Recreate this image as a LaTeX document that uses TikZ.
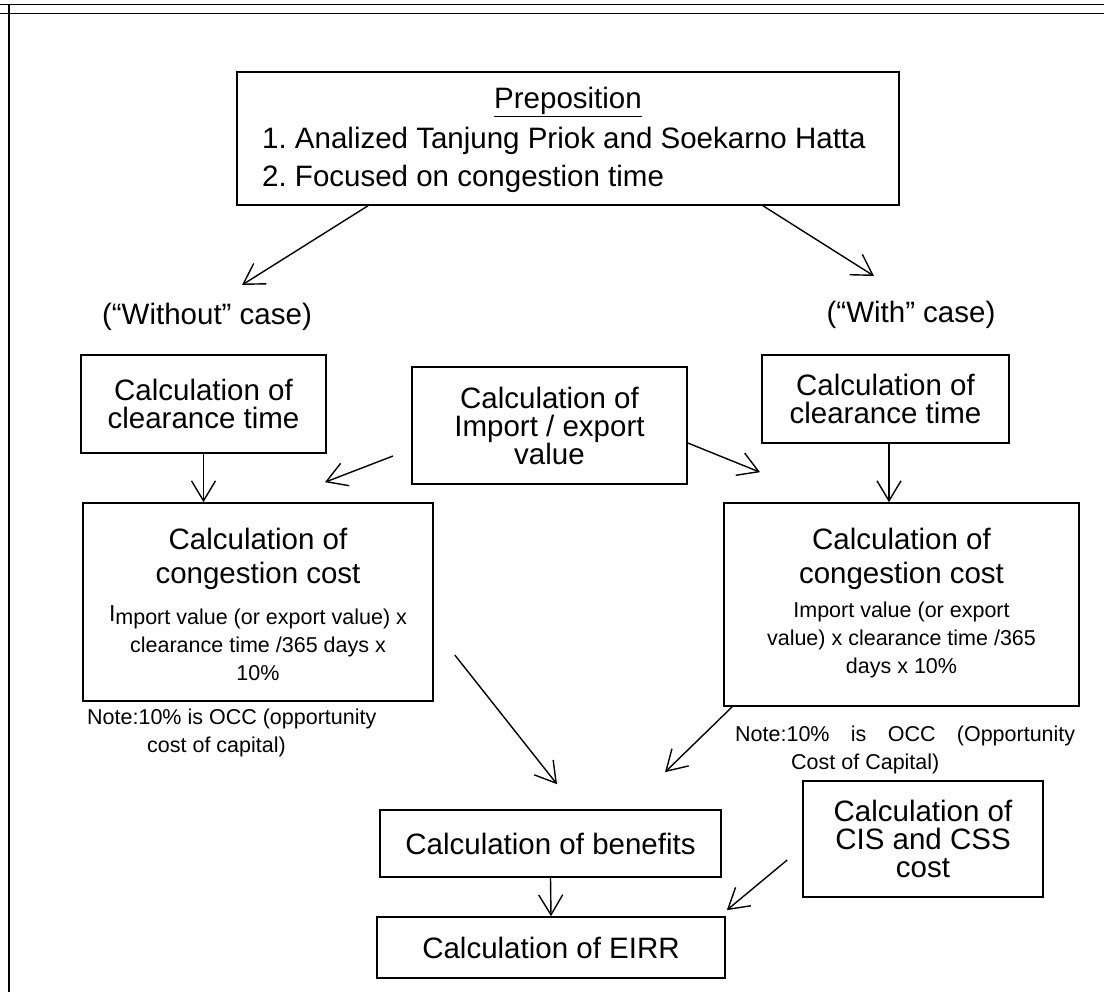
\documentclass[tikz,border=0pt]{standalone}
\usepackage{fontspec}
\setmainfont{Liberation Sans}
\usetikzlibrary{arrows.meta}

\begin{document}
\frenchspacing
\begin{tikzpicture}[x=1pt,y=-1pt,
  box/.style={draw, line width=1.6pt, inner sep=0pt},
  big/.style={font=\fontsize{29.5}{28}\selectfont, align=center, inner sep=0pt},
  small/.style={font=\fontsize{21.5}{28}\selectfont, align=center, inner sep=0pt},
  lbl/.style={font=\fontsize{29.5}{28}\selectfont, inner sep=0pt},
  arr/.style={line width=1.4pt, -{Straight Barb[length=20pt,width=24pt,line width=1.4pt]}},
]
\useasboundingbox (0,0) rectangle (1104,992);

% page frame: double rule on top, single rule on the left
\draw[line width=1pt] (0,5) -- (1104,5);
\draw[line width=1pt] (0,14) -- (1104,14);
\draw[line width=1.8pt] (9,5) -- (9,992);

% premise box
\node[box, minimum width=662pt, minimum height=133pt] (pre) at (568,138.5) {};
\node[lbl] (pretitle) at (568,102) {\underline{Preposition}};
\node[lbl, anchor=west] (pre1) at (262,141) {1. Analized Tanjung Priok and Soekarno Hatta};
\node[lbl, anchor=west] (pre2) at (262,179) {2. Focused on congestion time};

% case labels
\node[lbl] (wo) at (207,317) {(“Without” case)};
\node[lbl] (wi) at (911,315) {(“With” case)};

% first row of boxes
\node[box, big, minimum width=245pt, minimum height=98pt] (lclr) at (203.5,404) {Calculation of\\clearance time};
\node[box, big, minimum width=247pt, minimum height=88pt] (rclr) at (885.5,399) {Calculation of\\clearance time};
\node[box, big, minimum width=275pt, minimum height=117pt] (imp) at (549.5,425.5) {Calculation of\\Import / export\\value};

% congestion cost boxes
\node[box, minimum width=350pt, minimum height=198pt] (lcong) at (258,602) {};
\node[big] (lcongt) at (258,559) {Calculation of\\[6pt]congestion cost};
\node[small] (lcongf) at (258,643) {\raisebox{3pt}{\fontsize{23}{23}\selectfont\rmfamily I}mport value (or export value) x\\clearance time /365 days x\\10\%};

\node[box, minimum width=355pt, minimum height=203pt] (rcong) at (901.5,604.5) {};
\node[big] (rcongt) at (901.5,559) {Calculation of\\[6pt]congestion cost};
\node[small] (rcongf) at (901.5,640) {Import value (or export\\value) x clearance time /365\\days x 10\%};

% notes under the congestion boxes
\node[small, align=left, anchor=north west] (lnote) at (87,709) {Note:10\% is OCC (opportunity\\\hspace*{60pt}cost of capital)};
\node[small, align=left, anchor=north west] (rnote) at (735,726) {\makebox[340pt][s]{Note:10\% is OCC (Opportunity}\\\hspace*{56pt}Cost of Capital)};

% lower boxes
\node[box, big, minimum width=341pt, minimum height=67pt] (ben) at (550.5,843.5) {Calculation of benefits};
\node[box, big, minimum width=348pt, minimum height=61pt] (eirr) at (551,947.5) {Calculation of EIRR};
\node[box, big, minimum width=240pt, minimum height=116pt] (cis) at (923,839) {Calculation of\\CIS and CSS\\cost};

% connectors
\draw[arr] ([xshift=-200pt]pre.south) -- ([xshift=35pt,yshift=32pt]wo.center);
\draw[arr] ([xshift=195pt]pre.south) -- ([xshift=-37pt,yshift=39pt]wi.center);
\draw[arr] (lclr.south) -- (lclr.south |- lcong.north);
\draw[arr] ([xshift=3.5pt]rclr.south) -- ([xshift=3.5pt]rclr.south |- rcong.north);
\draw[arr] ([xshift=-156.5pt,yshift=-30.5pt]imp.center) -- ([xshift=67pt,yshift=20pt]lcong.north);
\draw[arr] ([yshift=-17.5pt]imp.east) -- ([xshift=-141.5pt,yshift=30pt]rcong.north);
\draw[arr] ([xshift=21pt,yshift=-53pt]lcong.east) -- ([xshift=6.5pt,yshift=25pt]ben.north);
\draw[arr] ([xshift=9pt]rcong.south west) -- ([xshift=114.5pt,yshift=37pt]ben.north);
\draw[arr] (ben.south) -- (eirr.north);
\draw[arr] ([xshift=-15pt,yshift=-21pt]cis.west) -- ([xshift=1pt,yshift=6pt]eirr.north east);
\end{tikzpicture}
\end{document}
